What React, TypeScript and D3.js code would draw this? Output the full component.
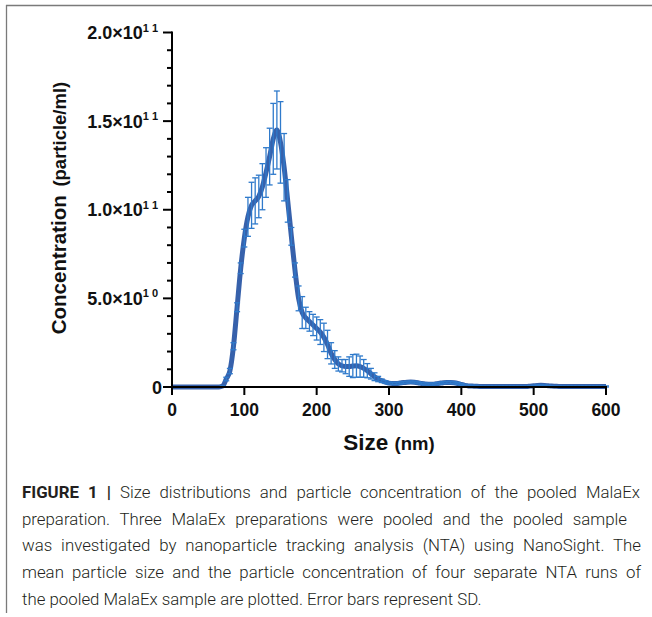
import React, { useLayoutEffect, useRef, useState } from 'react';
import * as d3 from 'd3';

// particle size bins (nm)
const sizes = [
  0, 5, 10, 15, 20, 25, 30, 35, 40, 45, 50, 55, 60, 65,
  70, 75, 80, 85, 90, 95, 100, 105, 110, 115, 120, 125, 130, 135, 140, 145,
  150, 155, 160, 165, 170, 175, 180, 185, 190, 195, 200, 205, 210, 215, 220, 225,
  230, 235, 240, 245, 250, 255, 260, 265, 270, 275, 280, 285, 290, 295, 300, 305,
  310, 315, 320, 325, 330, 335, 340, 345, 350, 355, 360, 365, 370, 375, 380, 385,
  390, 395, 400, 405, 410, 415, 420, 425, 430, 435, 440, 445, 450, 455, 460, 465,
  470, 475, 480, 485, 490, 495, 500, 505, 510, 515, 520, 525, 530, 535, 540, 545,
  550, 555, 560, 565, 570, 575, 580, 585, 590, 595, 600,
];

// mean concentration, in units of 1e10 particle/ml
const meanConc = [
  0, 0, 0, 0, 0, 0, 0, 0, 0, 0, 0, 0, 0, 0,
  0.05, 0.45, 0.9, 2.3, 4.5, 6.7, 8.4, 9.6, 10.25, 10.5, 10.75, 11.3, 12.1, 13.0, 14.0, 14.5,
  13.8, 12.4, 10.5, 8.5, 6.6, 5.0, 4.2, 3.9, 3.7, 3.5, 3.3, 3.1, 2.8, 2.4, 1.9, 1.55,
  1.3, 1.2, 1.15, 1.15, 1.18, 1.2, 1.15, 1.05, 0.92, 0.75, 0.58, 0.45, 0.35, 0.28, 0.22, 0.2,
  0.2, 0.22, 0.25, 0.27, 0.28, 0.27, 0.24, 0.2, 0.17, 0.16, 0.16, 0.18, 0.21, 0.24, 0.26, 0.26,
  0.24, 0.2, 0.14, 0.09, 0.06, 0.05, 0.04, 0.03, 0.03, 0.03, 0.03, 0.03, 0.03, 0.03, 0.03, 0.03,
  0.03, 0.03, 0.03, 0.03, 0.03, 0.05, 0.07, 0.09, 0.1, 0.09, 0.07, 0.05, 0.04, 0.03, 0.03, 0.03,
  0.03, 0.03, 0.03, 0.03, 0.03, 0.03, 0.03, 0.03, 0.03, 0.03, 0.03,
];

// standard deviation, same units
const sdConc = [
  0, 0, 0, 0, 0, 0, 0, 0, 0, 0, 0, 0, 0, 0,
  0.03, 0.1, 0.15, 0.2, 0.25, 0.3, 0.5, 1.1, 1.3, 1.3, 1.2, 1.3, 1.4, 1.6, 2.0, 2.2,
  2.3, 1.9, 1.2, 0.5, 0.4, 0.7, 0.9, 0.6, 0.55, 0.6, 0.65, 0.7, 0.8, 0.8, 0.6, 0.5,
  0.4, 0.35, 0.4, 0.55, 0.65, 0.65, 0.6, 0.5, 0.4, 0.3, 0.22, 0.15, 0.1, 0.08, 0.06, 0.06,
  0.06, 0.06, 0.06, 0.06, 0.06, 0.06, 0.06, 0.06, 0.06, 0.06, 0.06, 0.06, 0.06, 0.06, 0.06, 0.06,
  0.06, 0.06, 0.06, 0.06, 0.06, 0.06, 0.06, 0.03, 0.03, 0.03, 0.03, 0.03, 0.03, 0.03, 0.03, 0.03,
  0.03, 0.03, 0.03, 0.03, 0.03, 0.03, 0.03, 0.03, 0.03, 0.03, 0.03, 0.03, 0.03, 0.03, 0.03, 0.03,
  0.03, 0.03, 0.03, 0.03, 0.03, 0.03, 0.03, 0.03, 0.03, 0.03, 0.03,
];

const xTicks = [0, 100, 200, 300, 400, 500, 600];
const yTicks = [0, 5e10, 1e11, 1.5e11, 2e11];
const yTickLabels = [
  { m: '0', e: '' },
  { m: '5.0×10', e: '1 0' },
  { m: '1.0×10', e: '1 1' },
  { m: '1.5×10', e: '1 1' },
  { m: '2.0×10', e: '1 1' },
];

const captionLead = 'FIGURE 1 | ';
const captionLines = [
  'Size distributions and particle concentration of the pooled MalaEx',
  'preparation. Three MalaEx preparations were pooled and the pooled sample',
  'was investigated by nanoparticle tracking analysis (NTA) using NanoSight. The',
  'mean particle size and the particle concentration of four separate NTA runs of',
  'the pooled MalaEx sample are plotted. Error bars represent SD.',
];
// widths of the justified lines in the picture
const captionWidths = [618, 605, 619, 619];
const captionSqueeze = 0.99;

const W = 652;
const H = 617;
const margin = { left: 172, right: 46, top: 32.5, bottom: 230 };
const lineColor = '#3761ab';
const barColor = '#2f7acb';
const font = "'Liberation Sans', Arial, sans-serif";

export default function App() {
  const capRefs = useRef<(SVGTextElement | null)[]>([]);
  const [ws, setWs] = useState([0, 0, 0, 0, 0]);

  // justify lines 1-4 by word spacing
  useLayoutEffect(() => {
    const next = captionLines.map((l, i) => {
      const el = capRefs.current[i];
      if (i > 3 || !el) return 0;
      const len = el.getComputedTextLength();
      const full = (i === 0 ? captionLead : '') + l;
      const spaces = full.split(' ').length - 1;
      return Math.max(0, (captionWidths[i] / captionSqueeze - len) / spaces);
    });
    setWs(next);
  }, []);

  const x = d3.scaleLinear().domain([0, 600]).range([margin.left, W - margin.right]);
  const y = d3.scaleLinear().domain([0, 2e11]).range([H - margin.bottom, margin.top]);

  const pts = sizes.map((s, i) => ({ s, m: meanConc[i] * 1e10, sd: sdConc[i] * 1e10 }));
  const line = d3.line<any>().curve(d3.curveMonotoneX).x(d => x(d.s)).y(d => y(d.m));

  const minor = y.ticks(20).filter(t => !yTicks.includes(t));
  const y0 = y(0);

  return (
    <div style={{ position: 'absolute', left: 0, top: 0 }}>
      <svg width={W} height={H} style={{ display: 'block', background: '#fff' }}>
        {/* frame */}
        <line x1={6} y1={5.5} x2={W} y2={5.5} stroke="#7a7a7a" strokeWidth={1.3} />
        <line x1={6.5} y1={5} x2={6.5} y2={613} stroke="#7a7a7a" strokeWidth={1.3} />

        {/* curve */}
        <path d={line(pts) as string} fill="none" stroke={lineColor} strokeWidth={5} strokeLinejoin="round" />

        {/* error bars */}
        <g stroke={barColor} strokeWidth={1.3} fill="none">
          {pts.filter(d => d.sd > 0).map((d, i) => {
            const cx = x(d.s);
            const t = y(d.m + d.sd);
            const b = y(d.m - d.sd);
            return (
              <g key={i}>
                <line x1={cx} x2={cx} y1={t} y2={b} />
                <line x1={cx - 3} x2={cx + 3} y1={t} y2={t} />
                <line x1={cx - 3} x2={cx + 3} y1={b} y2={b} />
              </g>
            );
          })}
        </g>

        {/* y axis */}
        <g stroke="#000" strokeWidth={2}>
          <line x1={x(0)} x2={x(0)} y1={y(2e11) - 1} y2={y0 + 1} />
          {yTicks.map(t => (
            <line key={t} x1={x(0) - 9} x2={x(0)} y1={y(t)} y2={y(t)} />
          ))}
          {minor.map(t => (
            <line key={t} x1={x(0) - 5} x2={x(0)} y1={y(t)} y2={y(t)} />
          ))}
        </g>
        <g fontFamily={font} fontWeight="bold" fill="#111">
          {yTicks.map((t, i) => (
            <text key={t} x={yTickLabels[i].e ? 158 : 162} y={y(t) + 6.5} textAnchor="end" fontSize={18}>
              {yTickLabels[i].m}
              {yTickLabels[i].e && (
                <tspan fontSize={11} dy={-7.5}>{yTickLabels[i].e}</tspan>
              )}
            </text>
          ))}
        </g>

        {/* x axis */}
        <g stroke="#000" strokeWidth={2}>
          <line x1={x(0) - 1} x2={x(600) + 1} y1={y0} y2={y0} />
          {xTicks.map(t => (
            <line key={t} x1={x(t)} x2={x(t)} y1={y0} y2={y0 + 8} />
          ))}
        </g>
        <g fontFamily={font} fontWeight="bold" fill="#111" fontSize={17.5} textAnchor="middle">
          {xTicks.map(t => (
            <text key={t} x={x(t)} y={416}>{t}</text>
          ))}
        </g>

        {/* axis titles */}
        <text x={(x(0) + x(600)) / 2} y={449.5} textAnchor="middle" fontFamily={font} fontWeight="bold" fill="#111">
          <tspan fontSize={22.5}>Size </tspan>
          <tspan fontSize={18.5}>(nm)</tspan>
        </text>
        <text transform="translate(66,208) rotate(-90)" textAnchor="middle" fontFamily={font} fontWeight="bold" fill="#111">
          <tspan fontSize={20.5}>Concentration </tspan>
          <tspan fontSize={18.5} dx={3}>(particle/ml)</tspan>
        </text>

        {/* caption */}
        <g fontFamily="Roboto, 'Liberation Sans', sans-serif" fontSize={17} fill="#231f20">
          {captionLines.map((l, i) => (
            <text
              key={i}
              ref={el => { capRefs.current[i] = el; }}
              transform={`translate(22,${498 + i * 26.7}) scale(${captionSqueeze},1)`}
              fontWeight={300}
              style={{ wordSpacing: `${ws[i]}px` }}
            >
              {i === 0 && <tspan fontWeight="bold">{captionLead}</tspan>}
              {l}
            </text>
          ))}
        </g>
      </svg>
    </div>
  );
}
